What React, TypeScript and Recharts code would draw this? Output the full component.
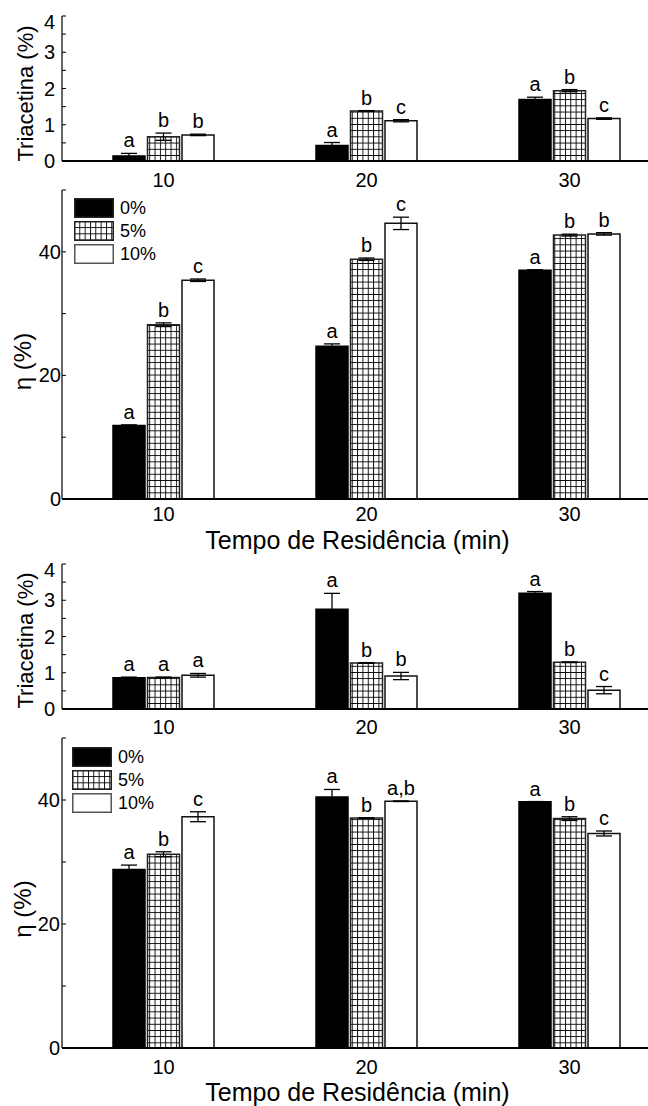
import React from 'react'
import { BarChart, Bar, XAxis, YAxis, ErrorBar, LabelList, Legend } from 'recharts'

const categories = ['10', '20', '30']
const seriesNames = ['0%', '5%', '10%']

// (a) Triacetina (%)
const triA0 = [0.14, 0.43, 1.7]
const triA5 = [0.67, 1.38, 1.94]
const triA10 = [0.72, 1.11, 1.17]
const triA0Err = [0.07, 0.08, 0.06]
const triA5Err = [0.1, 0.01, 0.03]
const triA10Err = [0.02, 0.03, 0.02]
const triALetters = [['a', 'a', 'a'], ['b', 'b', 'b'], ['b', 'c', 'c']]

// (a) eta (%)
const etaA0 = [11.9, 24.7, 37.0]
const etaA5 = [28.2, 38.8, 42.7]
const etaA10 = [35.4, 44.6, 42.9]
const etaA0Err = [0.1, 0.4, 0.1]
const etaA5Err = [0.3, 0.2, 0.15]
const etaA10Err = [0.2, 1.0, 0.2]
const etaALetters = [['a', 'a', 'a'], ['b', 'b', 'b'], ['c', 'c', 'b']]

// (b) Triacetina (%)
const triB0 = [0.86, 2.75, 3.19]
const triB5 = [0.87, 1.27, 1.29]
const triB10 = [0.93, 0.91, 0.52]
const triB0Err = [0.02, 0.44, 0.05]
const triB5Err = [0.01, 0.01, 0.01]
const triB10Err = [0.05, 0.1, 0.1]
const triBLetters = [['a', 'a', 'a'], ['a', 'b', 'b'], ['a', 'b', 'c']]

// (b) eta (%)
const etaB0 = [28.8, 40.5, 39.7]
const etaB5 = [31.25, 37.1, 37.0]
const etaB10 = [37.3, 39.8, 34.6]
const etaB0Err = [0.7, 1.2, 0.05]
const etaB5Err = [0.4, 0.05, 0.3]
const etaB10Err = [0.8, 0.05, 0.4]
const etaBLetters = [['a', 'a', 'a'], ['b', 'b', 'b'], ['c', 'a,b', 'c']]

const triTicks = [0, 0.5, 1, 1.5, 2, 2.5, 3, 3.5, 4]
const triLabels = [0, 1, 2, 3, 4]
const etaTicks = [0, 10, 20, 30, 40, 50]
const etaLabels = [0, 20, 40]
const boundaryTicks = [0.5, 1, 1.5, 2, 2.5]

const FONT = '"Liberation Sans", Arial, Helvetica, sans-serif'
const CHART_W = 720
const AXIS_W = 62

const barStyles = [
  { fill: '#000', stroke: '#000' },
  { fill: 'url(#gridFill)', stroke: '#222' },
  { fill: '#fff', stroke: '#111' },
]

function buildRows(vals: number[][], errs: number[][], letters: string[][]) {
  return categories.map((c, i) => {
    const row: any = { cat: c }
    vals.forEach((v, s) => {
      row['v' + s] = v[i]
      row['e' + s] = errs[s][i]
      row['l' + s] = letters[s][i]
    })
    return row
  })
}

const letterContent = (vals: number[], errs: number[]) => (p: any) => {
  const { x, y, width, height, value, index } = p
  const ppu = Number(height) / vals[index]
  const top = Number(y) - errs[index] * ppu
  return (
    <text x={Number(x) + Number(width) / 2} y={top - 6} textAnchor="middle" fontSize={20} fontFamily={FONT} fill="#000">
      {value}
    </text>
  )
}

const LegendBox = () => (
  <div style={{ display: 'flex', flexDirection: 'column', gap: 3, fontFamily: FONT }}>
    {seriesNames.map((n, i) => (
      <div key={n} style={{ display: 'flex', alignItems: 'center', height: 20 }}>
        <svg width={40} height={20}>
          <rect x={0.75} y={0.75} width={38.5} height={18.5} fill={barStyles[i].fill} stroke={i === 2 ? '#555' : '#222'} strokeWidth={1.5} />
        </svg>
        <span style={{ marginLeft: 6, fontSize: 18, color: '#000' }}>{n}</span>
      </div>
    ))}
  </div>
)

interface PanelProps {
  top: number
  height: number
  marginTop: number
  xAxisHeight: number
  xTickOffset: number
  vals: number[][]
  errs: number[][]
  letters: string[][]
  domain: [number, number]
  ticks: number[]
  labels: number[]
  labelRight: number
  yLabel: string
  yLabelSize: number
  yLabelX: number
  yLabelShift: number
  tag?: string
  legendTop?: number
  legendLeft?: number
  title?: string
  titleOffset?: number
}

function Panel(props: PanelProps) {
  const { top, height, marginTop, xAxisHeight, vals, errs, letters, domain, ticks, labels } = props
  const rows = buildRows(vals, errs, letters)
  const plotBottom = height - xAxisHeight
  const plotMid = (marginTop + plotBottom) / 2 + props.yLabelShift

  const yTick = (p: any) => {
    const v = p.payload.value
    const shift = v === domain[1] ? 6 : 0
    return (
      <g>
        <line x1={p.x} x2={p.x + 4} y1={p.y} y2={p.y} stroke="#000" strokeWidth={1} />
        {labels.includes(v) && (
          <text x={props.labelRight} y={p.y + shift} dy={7} textAnchor="end" fontSize={20} fontFamily={FONT} fill="#000">
            {v}
          </text>
        )}
      </g>
    )
  }

  const xTick = (p: any) => (
    <text x={p.x} y={p.y + props.xTickOffset} textAnchor="middle" fontSize={20} fontFamily={FONT} fill="#000">
      {p.payload.value}
    </text>
  )

  const topTick = (p: any) => <line x1={p.x} x2={p.x} y1={p.y - 2} y2={p.y + 3} stroke="#000" strokeWidth={1} />

  return (
    <div style={{ position: 'absolute', left: 0, top }}>
      <BarChart
        width={CHART_W}
        height={height}
        data={rows}
        margin={{ top: marginTop, right: CHART_W - 671, bottom: 0, left: 0 }}
        barSize={32}
        barGap={2.5}
      >
        <XAxis
          xAxisId="top"
          orientation="top"
          type="number"
          domain={[0, 3]}
          ticks={boundaryTicks}
          allowDataOverflow
          height={0}
          interval={0}
          axisLine={{ stroke: '#000', strokeWidth: 1.2 }}
          tickLine={false}
          tickSize={0}
          tickMargin={0}
          tick={topTick}
          label={
            props.tag
              ? () => (
                  <text x={AXIS_W + 4} y={marginTop + 24} fontSize={20} fontFamily={FONT} fill="#000">
                    {props.tag}
                  </text>
                )
              : undefined
          }
        />
        <XAxis
          xAxisId="cat"
          dataKey="cat"
          height={xAxisHeight}
          interval={0}
          axisLine={{ stroke: '#000', strokeWidth: 2 }}
          tickLine={false}
          tickSize={0}
          tickMargin={0}
          tick={xTick}
          label={
            props.title
              ? () => (
                  <text x={357.5} y={plotBottom + (props.titleOffset || 46)} textAnchor="middle" fontSize={25} fontFamily={FONT} fill="#000">
                    {props.title}
                  </text>
                )
              : undefined
          }
        />
        <YAxis
          type="number"
          domain={domain}
          ticks={ticks}
          allowDataOverflow
          interval={0}
          width={AXIS_W}
          axisLine={{ stroke: '#000', strokeWidth: 1.2 }}
          tickLine={false}
          tickSize={0}
          tickMargin={0}
          tick={yTick}
          label={() => (
            <text
              x={props.yLabelX}
              y={plotMid}
              transform={`rotate(-90 ${props.yLabelX} ${plotMid})`}
              textAnchor="middle"
              fontSize={props.yLabelSize}
              fontFamily={FONT}
              fill="#000"
            >
              {props.yLabel}
            </text>
          )}
        />
        {[0, 1, 2].map(s => (
          <Bar
            key={s}
            xAxisId="cat"
            dataKey={'v' + s}
            name={seriesNames[s]}
            fill={barStyles[s].fill}
            stroke={barStyles[s].stroke}
            strokeWidth={1.5}
            isAnimationActive={false}
          >
            <ErrorBar dataKey={'e' + s} width={8} stroke="#000" strokeWidth={1.3} direction="y" />
            <LabelList dataKey={'l' + s} content={letterContent(vals[s], errs[s])} />
          </Bar>
        ))}
        {props.legendTop !== undefined && (
          <Legend
            layout="vertical"
            align="center"
            verticalAlign="middle"
            content={() => <LegendBox />}
            wrapperStyle={{ left: props.legendLeft, top: props.legendTop, bottom: 'auto', width: 'auto' }}
          />
        )}
      </BarChart>
    </div>
  )
}

export default function App() {
  return (
    <div
      style={{
        position: 'absolute',
        left: 0,
        top: 0,
        width: 648,
        height: 1106,
        overflow: 'hidden',
        background: '#fff',
        fontFamily: FONT,
      }}
    >
      <svg width={0} height={0} style={{ position: 'absolute' }}>
        <defs>
          <pattern id="gridFill" patternUnits="userSpaceOnUse" width={5.33} height={6.2}>
            <rect x={0} y={0} width={5.33} height={6.2} fill="#fff" />
            <path d="M0 0.5 H5.33 M0.5 0 V6.2" stroke="#000" strokeWidth={0.9} />
          </pattern>
        </defs>
      </svg>
      <Panel
        top={0}
        height={200}
        marginTop={16}
        xAxisHeight={39}
        xTickOffset={26}
        vals={[triA0, triA5, triA10]}
        errs={[triA0Err, triA5Err, triA10Err]}
        letters={triALetters}
        domain={[0, 4]}
        ticks={triTicks}
        labels={triLabels}
        labelRight={55}
        yLabel="Triacetina (%)"
        yLabelSize={22}
        yLabelX={33}
        yLabelShift={5}
        tag="(a)"
      />
      <Panel
        top={170}
        height={392}
        marginTop={20}
        xAxisHeight={63}
        xTickOffset={22}
        vals={[etaA0, etaA5, etaA10]}
        errs={[etaA0Err, etaA5Err, etaA10Err]}
        letters={etaALetters}
        domain={[0, 50]}
        ticks={etaTicks}
        labels={etaLabels}
        labelRight={61}
        yLabel="η (%)"
        yLabelSize={24}
        yLabelX={31}
        yLabelShift={17}
        legendTop={28}
        legendLeft={74}
        title="Tempo de Residência (min)"
        titleOffset={50}
      />
      <Panel
        top={548}
        height={191}
        marginTop={16}
        xAxisHeight={30}
        xTickOffset={25}
        vals={[triB0, triB5, triB10]}
        errs={[triB0Err, triB5Err, triB10Err]}
        letters={triBLetters}
        domain={[0, 4]}
        ticks={triTicks}
        labels={triLabels}
        labelRight={55}
        yLabel="Triacetina (%)"
        yLabelSize={22}
        yLabelX={33}
        yLabelShift={4}
        tag="(b)"
      />
      <Panel
        top={720}
        height={386}
        marginTop={18}
        xAxisHeight={58}
        xTickOffset={26}
        vals={[etaB0, etaB5, etaB10]}
        errs={[etaB0Err, etaB5Err, etaB10Err]}
        letters={etaBLetters}
        domain={[0, 50]}
        ticks={etaTicks}
        labels={etaLabels}
        labelRight={60}
        yLabel="η (%)"
        yLabelSize={24}
        yLabelX={31}
        yLabelShift={16}
        legendTop={27}
        legendLeft={72}
        title="Tempo de Residência (min)"
        titleOffset={53}
      />
    </div>
  )
}
